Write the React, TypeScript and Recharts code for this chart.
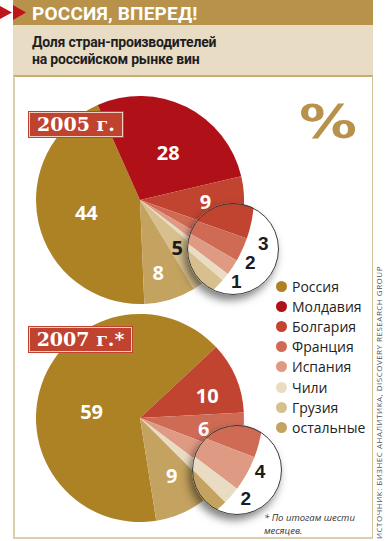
import { PieChart, Pie, Cell } from "recharts";

const categories = ["Россия", "Молдавия", "Болгария", "Франция", "Испания", "Чили", "Грузия", "остальные"];
const colors = ["#ad8225", "#b01119", "#c04430", "#cf6b55", "#df9a84", "#e9dcc3", "#d8c08e", "#c4a25f"];
const shares2005 = [44, 28, 9, 3, 2, 1, 5, 8];
const shares2007 = [59, 0, 10, 6, 4, 2, 0, 9];

const darkLabels = ["Грузия"];

// label placement: [distance (part of radius, or px past the rim in the glass), turn in degrees]
const mainLabels2005: Record<string, number[]> = {
  "Россия": [0.53, 0],
  "Молдавия": [0.53, -4.4],
  "Болгария": [0.63, 2],
  "Грузия": [0.58, -2],
  "остальные": [0.72, -2.8],
};
const mainLabels2007: Record<string, number[]> = {
  "Россия": [0.47, 11],
  "Болгария": [0.68, -4.8],
  "Франция": [0.62, 0],
  "остальные": [0.63, 2],
};
const glassLabels2005: Record<string, number[]> = {
  "Франция": [17, 5.8],
  "Испания": [13, 5.6],
  "Чили": [11, 1.6],
};
const glassLabels2007: Record<string, number[]> = {
  "Испания": [11, 3.2],
  "Чили": [13, 3],
};

const build = (values: number[]) =>
  categories
    .map((name, i) => ({ name, value: values[i], color: colors[i] }))
    .filter((d) => d.value > 0);

const data2005 = build(shares2005);
const data2007 = build(shares2007);

const RAD = Math.PI / 180;

function pieLabel(pos: Record<string, number[]>, inGlass: boolean) {
  return (p: any) => {
    const name = p.name ?? p.payload?.name;
    const cfg = pos[name];
    if (!cfg) return null;
    const r = inGlass ? p.outerRadius + cfg[0] : p.outerRadius * cfg[0];
    const a = (p.midAngle + cfg[1]) * RAD;
    const dark = inGlass || darkLabels.includes(name);
    return (
      <text
        x={p.cx + r * Math.cos(a)}
        y={p.cy - r * Math.sin(a)}
        textAnchor="middle"
        dominantBaseline="central"
        fill={dark ? "#1c1c1c" : "#fff"}
        style={{
          fontFamily: inGlass ? "'Liberation Sans'" : "'Open Sans'",
          fontWeight: 700,
          fontSize: inGlass ? 19 : 20,
        }}
      >
        {p.value}
      </text>
    );
  };
}

const start2005 = -87.6;
const start2007 = -81;

const abs = (l: number, t: number, w: number, h: number) => ({
  position: "absolute" as const,
  left: l,
  top: t,
  width: w,
  height: h,
});

function Glass({ cx, cy, r, children }: { cx: number; cy: number; r: number; children: any }) {
  return (
    <>
      <div
        style={{
          ...abs(cx - r, cy - r, r * 2, r * 2),
          borderRadius: "50%",
          background: "#fff",
          boxShadow: "-3px 5px 8px rgba(0,0,0,0.5)",
        }}
      />
      <div style={{ ...abs(0, 0, 385, 541), clipPath: `circle(${r}px at ${cx}px ${cy}px)` }}>{children}</div>
      <div
        style={{
          ...abs(cx - r, cy - r, r * 2, r * 2),
          borderRadius: "50%",
          border: "1px solid #3a3a3a",
          boxSizing: "border-box",
        }}
      />
    </>
  );
}

const yearBox = {
  background: "#c0432f",
  border: "1px solid #f0d0c0",
  outline: "1px solid #c0432f",
  color: "#fff",
  fontFamily: "'DejaVu Serif'",
  fontWeight: 700,
  fontSize: 19,
  lineHeight: "23px",
  textAlign: "center" as const,
  boxSizing: "border-box" as const,
};

function YearPie({ data, cx, cy, r, start, labels, inGlass }: any) {
  return (
    <Pie
      data={data}
      dataKey="value"
      nameKey="name"
      cx={cx}
      cy={cy}
      outerRadius={r}
      startAngle={start}
      endAngle={start - 360}
      stroke="none"
      label={pieLabel(labels, inGlass)}
      labelLine={false}
      isAnimationActive={false}
    >
      {data.map((d: any) => (
        <Cell key={d.name} fill={d.color} />
      ))}
    </Pie>
  );
}

export default function App() {
  return (
    <div style={{ ...abs(0, 0, 385, 541), background: "#fff", overflow: "hidden", fontFamily: "'Open Sans'" }}>
      {/* header */}
      <div style={{ ...abs(13, 0, 360, 25), background: "#b8924a" }} />
      <svg style={abs(0, 0, 30, 25)}>
        <polygon points="0,6 12,12.5 0,19" fill="#c0141c" />
        <polygon points="13,5 26,12.5 13,20" fill="#c0141c" />
      </svg>
      <div
        style={{
          ...abs(32, 0, 300, 25),
          color: "#fff",
          fontFamily: "Roboto",
          fontWeight: 700,
          fontSize: 19,
          lineHeight: "27px",
          letterSpacing: 0.2,
        }}
      >
        РОССИЯ, ВПЕРЕД!
      </div>
      <div style={{ ...abs(13, 25, 360, 50), background: "#e8dcc5" }} />
      <div
        style={{
          ...abs(32, 34, 300, 40),
          color: "#1e1e1e",
          fontFamily: "Roboto",
          fontWeight: 700,
          fontSize: 14,
          lineHeight: "17px",
          letterSpacing: -0.2,
        }}
      >
        Доля стран-производителей
        <br />
        на российском рынке вин
      </div>
      <div
        style={{
          ...abs(13, 75, 360, 464),
          borderTop: "2px solid #c9ab6e",
          borderLeft: "2px solid #dccfae",
          borderRight: "1px solid #d4c096",
          borderBottom: "2px solid #dccfae",
          boxSizing: "border-box",
        }}
      />

      {/* pies */}
      <div style={abs(0, 0, 385, 541)}>
        <PieChart width={385} height={541}>
          {YearPie({ data: data2005, cx: 135, cy: 195, r: 104, start: start2005, labels: mainLabels2005, inGlass: false })}
          {YearPie({ data: data2007, cx: 135, cy: 413, r: 104, start: start2007, labels: mainLabels2007, inGlass: false })}
        </PieChart>
      </div>

      <Glass cx={233} cy={249} r={46}>
        <PieChart width={385} height={541}>
          {YearPie({ data: data2005, cx: 120, cy: 191, r: 129, start: start2005, labels: glassLabels2005, inGlass: true })}
        </PieChart>
      </Glass>

      <Glass cx={237} cy={470} r={45}>
        <PieChart width={385} height={541}>
          {YearPie({ data: data2007, cx: 129, cy: 406, r: 129, start: start2007, labels: glassLabels2007, inGlass: true })}
        </PieChart>
      </Glass>

      {/* year tags */}
      <div style={{ ...abs(29, 112, 94, 25), ...yearBox }}>2005 г.</div>
      <div style={{ ...abs(29, 327, 103, 25), ...yearBox }}>2007 г.*</div>

      <div
        style={{
          ...abs(288, 92, 80, 60),
          color: "#b8924a",
          fontFamily: "'DejaVu Sans'",
          fontWeight: 700,
          fontSize: 46,
          lineHeight: "60px",
          textAlign: "center",
          transform: "scaleX(1.25)",
        }}
      >
        %
      </div>

      {/* legend */}
      <div style={abs(276, 276, 95, 170)}>
        {categories.map((c, i) => (
          <div
            key={c}
            style={{ display: "flex", alignItems: "center", height: 20.2, fontSize: 14, color: "#222" }}
          >
            <span
              style={{
                width: 11,
                height: 11,
                borderRadius: "50%",
                background: colors[i],
                marginRight: 5,
                flex: "none",
              }}
            />
            {c}
          </div>
        ))}
      </div>

      <div
        style={{
          ...abs(264, 512, 105, 26),
          fontSize: 9.5,
          fontStyle: "italic",
          color: "#333",
          lineHeight: "12.5px",
        }}
      >
        * По итогам шести
        <br />
        месяцев.
      </div>

      <div
        style={{
          ...abs(254, 409, 250, 10),
          transform: "rotate(-90deg)",
          fontSize: 8,
          lineHeight: "10px",
          letterSpacing: 0.5,
          color: "#555",
          textAlign: "center",
          whiteSpace: "nowrap",
        }}
      >
        ИСТОЧНИК: БИЗНЕС АНАЛИТИКА, DISCOVERY RESEARCH GROUP
      </div>
    </div>
  );
}
